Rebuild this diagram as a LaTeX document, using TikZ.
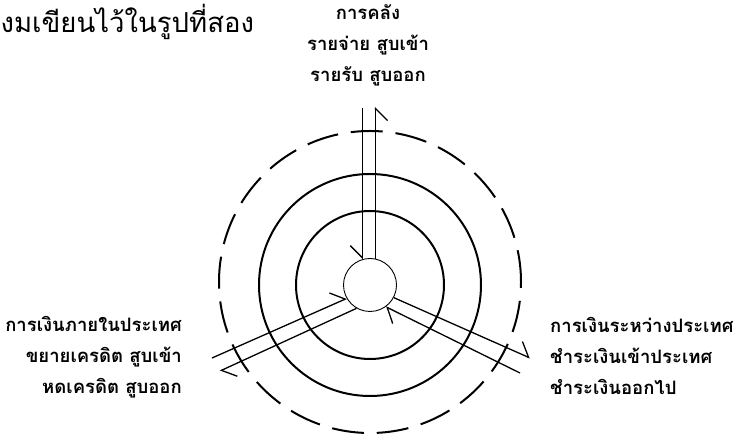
\documentclass[tikz,border=0pt]{standalone}
\usepackage{fontspec}
\newfontfamily\thaifont[Script=Thai]{Loma}
\usetikzlibrary{arrows.meta}

\begin{document}
\begin{tikzpicture}[
  x=1pt, y=1pt,
  ring/.style={draw=black, line width=2pt},
  dashring/.style={ring, dash pattern=on 32pt off 12.9pt},
  hubnode/.style={circle, draw=black, line width=0.9pt, minimum size=53pt, inner sep=0pt},
  lane/.style={draw=black, line width=1.3pt},
  barbl/.style={lane, -{Straight Barb[left, length=12pt, width=24pt]}},
  barbr/.style={lane, -{Straight Barb[right, length=12pt, width=24pt]}},
  sectortext/.style={font=\thaifont\bfseries\fontsize{18.5pt}{31pt}\selectfont, inner sep=0pt},
  titletext/.style={font=\thaifont\fontsize{27.5pt}{34pt}\selectfont, inner sep=0pt}
]
\useasboundingbox (0,0) rectangle (744,438);

\node[titletext, anchor=base west] (caption) at (0.5,405) {งมเขียนไว้ในรูปที่สอง};

\node[hubnode] (hub) at (370,153) {};
\draw[ring] (hub.center) circle[radius=74pt];
\draw[ring] (hub.center) circle[radius=111pt];
\draw[dashring] (370,156) circle[radius=151pt];

\node[sectortext, align=center, anchor=north] (treasury) at (368,434) {%
  การคลัง\\
  รายจ่าย สูบเข้า\\
  รายรับ สูบออก};
\node[sectortext, align=right, anchor=north east] (domestic) at (182,122) {%
  การเงินภายในประเทศ\\
  ขยายเครดิต สูบเข้า\\
  หดเครดิต สูบออก};
\node[sectortext, align=left, anchor=north west] (foreign) at (550,121) {%
  การเงินระหว่างประเทศ\\
  ชำระเงินเข้าประเทศ\\
  ชำระเงินออกไป};

\coordinate (topin) at (362.3,330);
\coordinate (topout) at (375.5,331);
\coordinate (ddin) at (212,80);
\coordinate (ddout) at (220,67);
\coordinate (fxout) at (530,80);
\coordinate (fxin) at (520,65);

\draw[barbr] (topin) -- (topin |- hub.107);
\draw[barbr] (topout |- hub.78) -- (topout);
\draw[barbl] (ddin) -- (hub.210);
\draw[barbl] (hub.240) -- (ddout);
\draw[barbl] (hub.332) -- (fxout);
\draw[barbl] (fxin) -- (hub.306);

\end{tikzpicture}
\end{document}
